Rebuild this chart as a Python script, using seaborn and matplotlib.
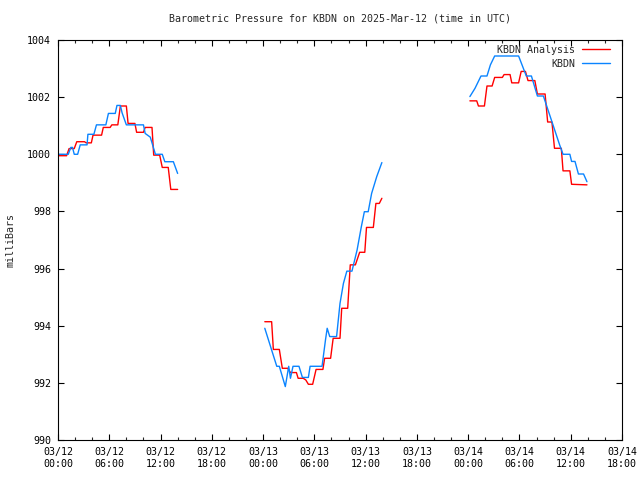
import numpy as np
import pandas as pd
import matplotlib
matplotlib.use("Agg")
import matplotlib.pyplot as plt
import matplotlib.dates as mdates
import seaborn as sns

title = "Barometric Pressure for KBDN on 2025-Mar-12 (time in UTC)"
ylabel = "milliBars"
series_names = ["KBDN Analysis", "KBDN"]
start = pd.Timestamp("2025-03-12 00:00")

# hours since 2025-03-12 00:00 UTC, pressure in mb
an1_h = [0.0, 1.0, 1.3, 1.9, 2.2, 3.1, 3.3, 3.9, 4.1, 5.1, 5.3, 6.1, 6.3, 7.0, 7.3, 8.0, 8.2, 9.0, 9.2, 10.0, 10.2, 11.0, 11.2, 11.9, 12.2, 12.9, 13.2, 14.0]
an1_p = [999.95, 999.95, 1000.2, 1000.2, 1000.44, 1000.44, 1000.4, 1000.4, 1000.67, 1000.67, 1000.94, 1000.94, 1001.03, 1001.03, 1001.69, 1001.69, 1001.08, 1001.08, 1000.77, 1000.77, 1000.94, 1000.94, 999.97, 999.97, 999.54, 999.54, 998.77, 998.77]
an2_h = [24.2, 25.0, 25.2, 25.9, 26.25, 26.9, 27.2, 27.9, 28.1, 28.7, 29.0, 29.3, 29.8, 30.2, 31.0, 31.2, 31.9, 32.2, 33.0, 33.2, 33.9, 34.2, 34.8, 35.3, 35.9, 36.1, 36.9, 37.2, 37.6, 37.9]
an2_p = [994.14, 994.14, 993.17, 993.17, 992.51, 992.51, 992.36, 992.36, 992.16, 992.16, 992.1, 991.95, 991.95, 992.47, 992.47, 992.86, 992.86, 993.56, 993.56, 994.61, 994.61, 996.13, 996.13, 996.57, 996.57, 997.44, 997.44, 998.28, 998.28, 998.46]
an3_h = [48.2, 49.0, 49.2, 49.9, 50.2, 50.8, 51.1, 52.0, 52.2, 52.9, 53.1, 53.9, 54.2, 54.7, 55.0, 55.8, 56.1, 57.0, 57.3, 57.8, 58.1, 58.9, 59.1, 59.9, 60.1, 61.9]
an3_p = [1001.87, 1001.87, 1001.69, 1001.69, 1002.39, 1002.39, 1002.69, 1002.69, 1002.79, 1002.79, 1002.5, 1002.5, 1002.9, 1002.9, 1002.58, 1002.58, 1002.11, 1002.11, 1001.13, 1001.13, 1000.21, 1000.21, 999.42, 999.42, 998.95, 998.93]

ob1_h = [0.0, 1.2, 1.5, 1.7, 1.9, 2.3, 2.6, 3.4, 3.5, 4.2, 4.5, 5.6, 5.9, 6.7, 6.9, 7.3, 7.5, 8.0, 10.0, 10.2, 10.8, 11.4, 12.2, 12.5, 13.5, 14.0]
ob1_p = [1000.0, 1000.0, 1000.24, 1000.24, 1000.0, 1000.0, 1000.33, 1000.33, 1000.7, 1000.7, 1001.03, 1001.03, 1001.43, 1001.43, 1001.71, 1001.71, 1001.45, 1001.03, 1001.03, 1000.73, 1000.6, 1000.0, 1000.0, 999.74, 999.74, 999.33]
ob2_h = [24.2, 25.6, 25.9, 26.6, 27.0, 27.2, 27.5, 28.2, 28.6, 29.3, 29.5, 30.9, 31.3, 31.5, 31.8, 32.6, 33.0, 33.4, 33.8, 34.4, 35.0, 35.5, 35.85, 36.3, 36.7, 37.3, 37.9]
ob2_p = [993.91, 992.58, 992.58, 991.87, 992.58, 992.16, 992.58, 992.58, 992.19, 992.19, 992.58, 992.58, 993.5, 993.91, 993.62, 993.62, 994.78, 995.48, 995.91, 995.91, 996.65, 997.47, 997.99, 997.99, 998.63, 999.22, 999.71]
ob3_h = [48.2, 48.8, 49.5, 50.2, 50.6, 51.1, 53.9, 54.3, 54.8, 55.4, 56.1, 56.8, 58.7, 59.1, 59.9, 60.1, 60.5, 60.9, 61.5, 61.9]
ob3_p = [1002.02, 1002.31, 1002.74, 1002.74, 1003.13, 1003.44, 1003.44, 1003.13, 1002.74, 1002.74, 1002.04, 1002.04, 1000.33, 1000.0, 1000.0, 999.75, 999.75, 999.31, 999.31, 999.04]

y_ticks = [990, 992, 994, 996, 998, 1000, 1002, 1004]

rows = []
for name, segs in [(series_names[0], [(an1_h, an1_p), (an2_h, an2_p), (an3_h, an3_p)]),
                   (series_names[1], [(ob1_h, ob1_p), (ob2_h, ob2_p), (ob3_h, ob3_p)])]:
    for k, (hh, pp) in enumerate(segs):
        for h, p in zip(hh, pp):
            rows.append({"time": start + pd.Timedelta(hours=h), "pressure": p,
                         "series": name, "seg": k})
df = pd.DataFrame(rows)

sns.set_theme(style="ticks")
plt.rcParams["font.family"] = ["DejaVu Sans Mono", "DejaVu Sans"]
plt.rcParams["font.size"] = 7.2

fig = plt.figure(figsize=(6.4, 4.8), dpi=100)
ax = fig.add_axes([58/640, 40/480, 564/640, 400/480])

palette = {series_names[0]: "#ff0000", series_names[1]: "#0a84ff"}
sns.lineplot(data=df, x="time", y="pressure", hue="series", units="seg",
             estimator=None, palette=palette, hue_order=series_names,
             linewidth=1.0, ax=ax, legend=True, sort=False)

ax.set_xlim(start, start + pd.Timedelta(hours=66))
ax.set_ylim(990, 1004)
ax.set_yticks(y_ticks)
ax.set_yticklabels([str(v) for v in y_ticks])
ax.xaxis.set_major_locator(mdates.HourLocator(byhour=[0, 6, 12, 18]))
ax.xaxis.set_minor_locator(mdates.HourLocator(interval=2))
ax.xaxis.set_major_formatter(mdates.DateFormatter("%m/%d\n%H:%M"))

ax.tick_params(axis="both", which="major", direction="in", length=4, width=0.8,
               top=True, right=True, labelsize=7.2, colors="black", pad=5)
ax.tick_params(axis="x", which="minor", direction="in", length=2.2, width=0.8,
               top=True, bottom=True)
for s in ax.spines.values():
    s.set_color("black")
    s.set_linewidth(0.8)

ax.set_xlabel("")
ax.set_ylabel(ylabel, fontsize=7.2, labelpad=8)
ax.set_title(title, fontsize=7.2, pad=13)

leg = ax.legend(loc="upper right", frameon=False, markerfirst=False,
                fontsize=7.2, handlelength=2.8, handletextpad=0.7,
                labelspacing=0.4, borderpad=0.1, borderaxespad=0.0,
                bbox_to_anchor=(1 - 11/564, 1 - 4/400))
for line in leg.get_lines():
    line.set_linewidth(1.0)

fig.savefig("out.png", dpi=100, facecolor="white")
